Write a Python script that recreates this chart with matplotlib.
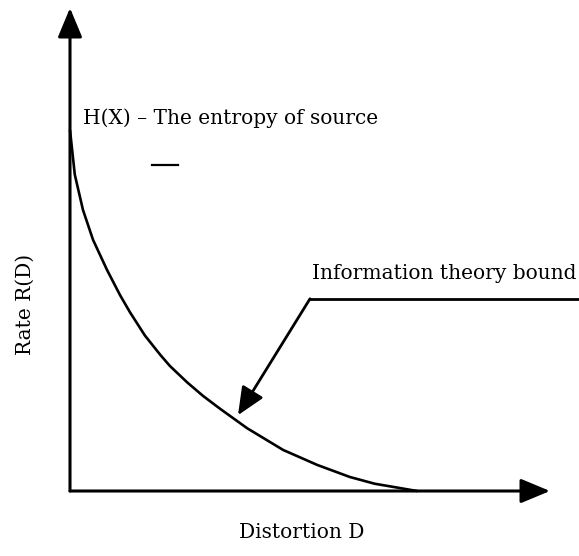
"""Rate-distortion sketch: R(D) falls from H(X) at D=0 down to zero."""

import matplotlib.pyplot as plt

# curve (distortion D, rate R), axis units 0..10
DIST = [0.0, 0.06, 0.10, 0.27, 0.48, 0.77, 1.04, 1.25, 1.56, 1.88, 2.08,
        2.44, 2.77, 3.13, 3.69, 4.44, 5.15, 5.83, 6.35, 6.88, 7.23]
RATE = [7.47, 6.92, 6.55, 5.82, 5.20, 4.58, 4.06, 3.70, 3.22, 2.82, 2.59,
        2.25, 1.97, 1.70, 1.30, 0.85, 0.54, 0.29, 0.15, 0.06, 0.0]

# label pointer: elbow of the leader line and the point it lands on
POINTER_RIGHT = (10.6, 3.98)
POINTER_ELBOW = (5.0, 3.98)
POINTER_TIP = (3.5, 1.57)

# stray dash under the H(X) note
DASH_D = [1.71, 2.25]
DASH_R = [6.75, 6.75]

FONT = "DejaVu Serif"
FS = 14.5


def main():
    fig = plt.figure(figsize=(5.79, 5.56), dpi=100)
    ax = fig.add_axes([70 / 579, 65 / 556, 480 / 579, 483 / 556])
    ax.set_xlim(0, 10)
    ax.set_ylim(0, 10)
    ax.axis("off")

    # axes drawn as arrows
    axis_style = "-|>,head_length=18,head_width=7.5"
    ax.annotate("", xy=(10, 0), xytext=(0, 0),
                arrowprops=dict(arrowstyle=axis_style, color="black", lw=2.2,
                                shrinkA=0, shrinkB=0, mutation_scale=1))
    ax.annotate("", xy=(0, 10), xytext=(0, 0),
                arrowprops=dict(arrowstyle=axis_style, color="black", lw=2.2,
                                shrinkA=0, shrinkB=0, mutation_scale=1))

    ax.plot(DIST, RATE, color="black", lw=1.9, solid_joinstyle="round",
            solid_capstyle="round", clip_on=False)

    # leader line to the curve
    ax.plot([POINTER_RIGHT[0], POINTER_ELBOW[0]], [POINTER_RIGHT[1], POINTER_ELBOW[1]],
            color="black", lw=2.0, clip_on=False)
    ax.annotate("", xy=POINTER_TIP, xytext=POINTER_ELBOW,
                arrowprops=dict(arrowstyle="-|>,head_length=17,head_width=7.5",
                                color="black", lw=2.0, shrinkA=0, shrinkB=0,
                                mutation_scale=1))

    ax.plot(DASH_D, DASH_R, color="black", lw=1.6)

    ax.text(0.27, 7.72, "H(X) \u2013 The entropy of source", family=FONT,
            fontsize=FS, ha="left", va="center")
    ax.text(5.04, 4.51, "Information theory bound", family=FONT,
            fontsize=FS, ha="left", va="center", clip_on=False)

    fig.text(302 / 579, 1 - 533 / 556, "Distortion D", family=FONT,
             fontsize=FS, ha="center", va="center")
    fig.text(25 / 579, 1 - 304 / 556, "Rate R(D)", family=FONT,
             fontsize=FS, ha="center", va="center", rotation=90)

    fig.savefig("out.png", dpi=100, facecolor="white")


if __name__ == "__main__":
    main()
